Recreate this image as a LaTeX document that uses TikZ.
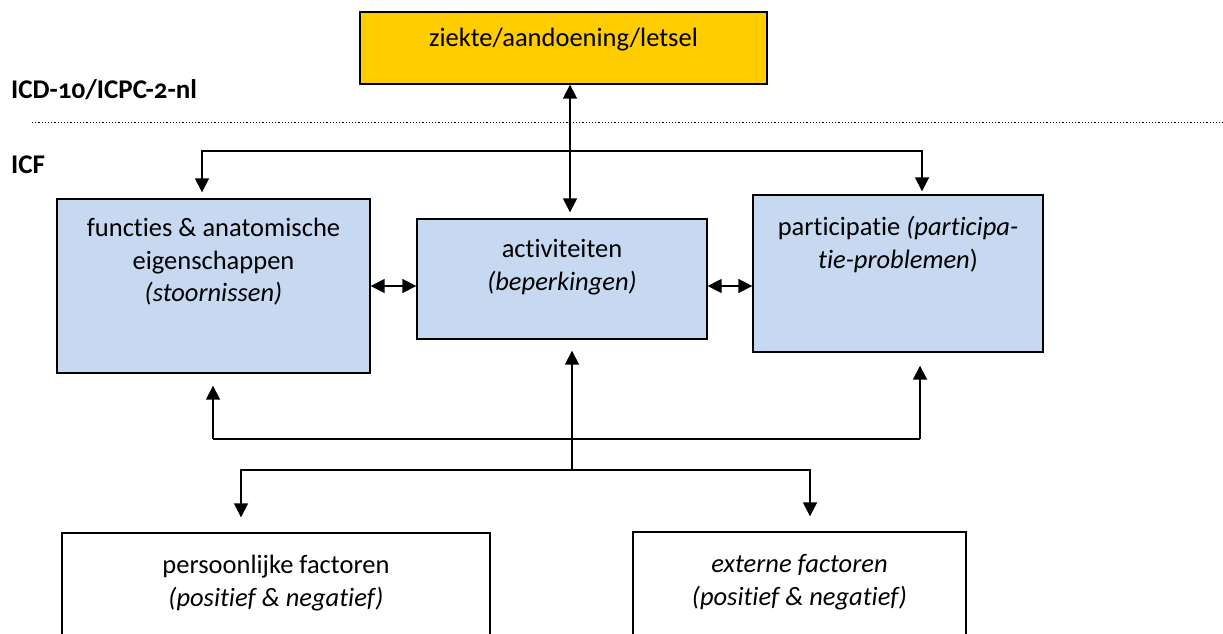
\documentclass[tikz,border=0pt]{standalone}
\usepackage{fontspec}
\setmainfont{Carlito}[Numbers=OldStyle, Ligatures=NoCommon]
\usetikzlibrary{arrows.meta,calc}

\definecolor{ziektegeel}{RGB}{255,204,0}
\definecolor{icfblauw}{RGB}{198,217,241}

\begin{document}
\begin{tikzpicture}[x=1pt, y=-1pt,
    kader/.style={draw, line width=1.4pt, inner sep=0pt},
    blauw/.style={kader, fill=icfblauw},
    tekst/.style={font=\fontsize{26.5}{32.5}\selectfont, align=center, anchor=north, inner sep=0pt},
    pijl/.style={line width=1.8pt, -{Triangle[length=14pt,width=14pt]}},
    dubbel/.style={line width=1.8pt, {Triangle[length=14pt,width=14pt]}-{Triangle[length=14pt,width=14pt]}},
    lijn/.style={line width=1.8pt}]
    \useasboundingbox (0,0) rectangle (1223,634);
    \node[kader, fill=ziektegeel, minimum width=407pt, minimum height=72pt,
      label={[tekst, yshift=-17pt]north:ziekte/aandoening/letsel}] (ziekte) at (563.5,48) {};
    \node[font=\fontsize{27}{30}\selectfont\bfseries, anchor=west, inner sep=0pt] (icd) at (11,90) {ICD-10/ICPC-2-nl};
    \node[font=\fontsize{27}{30}\selectfont\bfseries, anchor=west, inner sep=0pt] (icf) at (11,165) {ICF};
    \draw[line width=1pt, dash pattern=on 1.2pt off 2pt] (32,122) -- (1223,122);
    \node[blauw, minimum width=313pt, minimum height=174pt,
      label={[tekst, yshift=-20pt]north:{functies \& anatomische\\eigenschappen\\\textit{(stoornissen)}}}] (functies) at (213.5,286) {};
    \node[blauw, minimum width=290pt, minimum height=120pt,
      label={[tekst, yshift=-21pt]north:{activiteiten\\\textit{(beperkingen)}}}] (activiteiten) at (562,279) {};
    \node[blauw, minimum width=290pt, minimum height=157pt,
      label={[tekst, yshift=-22pt]north:{participatie \textit{(participa-}\\\textit{tie-problemen})}}] (participatie) at (898,273.5) {};
    \node[kader, fill=white, minimum width=428pt, minimum height=127pt,
      label={[tekst, yshift=-23pt]north:{persoonlijke factoren\\\textit{(positief \& negatief)}}}] (persoonlijk) at (276,596.5) {};
    \node[kader, fill=white, minimum width=333pt, minimum height=128pt,
      label={[tekst, yshift=-23pt]north:{\textit{externe factoren}\\\textit{(positief \& negatief)}}}] (extern) at (799.5,596) {};
    % verbindingen boven
    \coordinate (top) at (570,151);
    \coordinate (ltop) at (202,151);
    \coordinate (rtop) at (922,151);
    \draw[dubbel, shorten >=6pt] (ziekte.south -| top) -- (activiteiten.north -| top);
    \draw[pijl, shorten >=6pt] (top) -| (ltop |- functies.north);
    \draw[pijl, shorten >=3pt] (top) -| (rtop |- participatie.north);
    \draw[dubbel] (functies.east) -- (functies.east -| activiteiten.west);
    \draw[dubbel] (activiteiten.east |- functies.east) -- (participatie.west |- functies.east);
    % verbindingen onder
    \coordinate (hub) at (572,470);
    \coordinate (lbar) at (213,439);
    \coordinate (rbar) at (920,439);
    \coordinate (lvoet) at (241,470);
    \coordinate (rvoet) at (810,470);
    \draw[lijn] (lbar) -- (rbar);
    \draw[pijl, shorten >=11pt] (hub) -- (hub |- activiteiten.south);
    \draw[pijl, shorten >=12pt] (lbar) -- (lbar |- functies.south);
    \draw[pijl, shorten >=13pt] (rbar) -- (rbar |- participatie.south);
    \draw[pijl, shorten >=15pt] (hub) -| (lvoet |- persoonlijk.north);
    \draw[pijl, shorten >=15pt] (hub) -| (rvoet |- extern.north);
  \end{tikzpicture}
\end{document}
